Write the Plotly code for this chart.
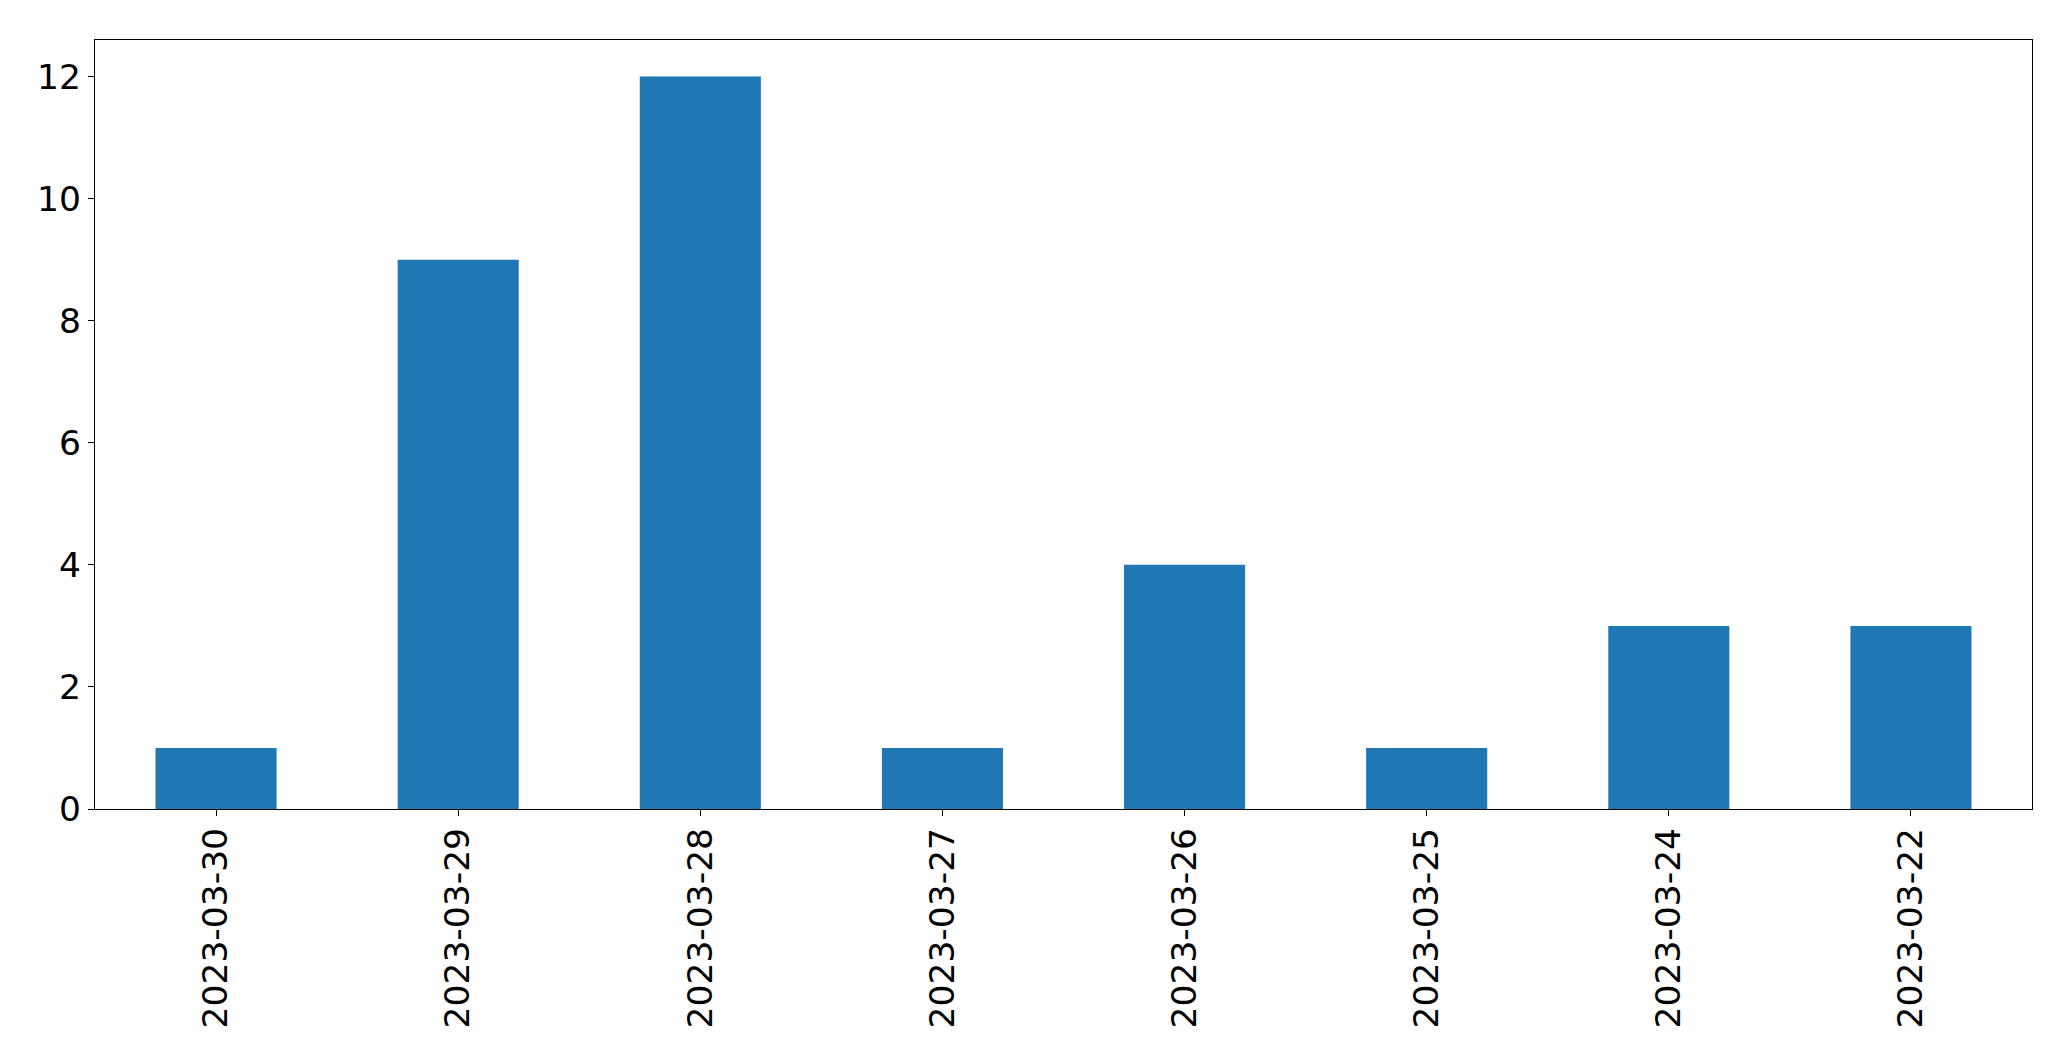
import plotly.graph_objects as go

dates = ["2023-03-30", "2023-03-29", "2023-03-28", "2023-03-27",
         "2023-03-26", "2023-03-25", "2023-03-24", "2023-03-22"]
counts = [1, 9, 12, 1, 4, 1, 3, 3]
y_ticks = [0, 2, 4, 6, 8, 10, 12]

fig = go.Figure(go.Bar(x=dates, y=counts, width=0.5,
                       marker=dict(color="#1f77b4", line=dict(width=0))))

axis_common = dict(showline=True, mirror=True, linecolor="black", linewidth=1.3,
                   ticks="outside", ticklen=6, tickwidth=1.3, tickcolor="black",
                   showgrid=False, zeroline=False,
                   tickfont=dict(family="DejaVu Sans", size=34.5, color="black"))

fig.update_layout(
    width=2071, height=1061,
    margin=dict(l=95, r=39, t=40, b=252, autoexpand=False),
    paper_bgcolor="white", plot_bgcolor="white",
    showlegend=False,
    xaxis=dict(type="category", range=[-0.5, 7.5], tickangle=-90,
               ticklabelstandoff=-2, **axis_common),
    yaxis=dict(range=[0, 12.6], tickvals=y_ticks, **axis_common),
)

fig.write_html("out.html", config={"displayModeBar": False},
               post_script="document.body.style.margin='0';document.body.style.overflow='hidden';")
